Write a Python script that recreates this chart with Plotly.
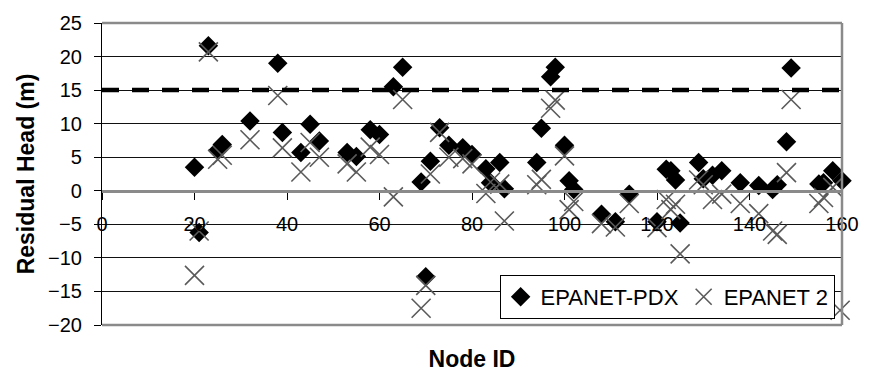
import plotly.graph_objects as go

node_id = [20, 21, 23, 25, 26, 32, 38, 39, 43, 45, 47, 53, 55, 58, 60, 63, 65, 69, 70, 71,
           73, 75, 78, 80, 83, 84, 86, 87, 94, 95, 97, 98, 100, 101, 102, 108, 111, 114,
           120, 122, 123, 124, 125, 129, 130, 132, 134, 138, 142, 145, 146, 148, 149,
           155, 156, 158, 160]
epanet_pdx = [3.5, -6.2, 21.6, 6.0, 6.9, 10.4, 19.0, 8.7, 5.7, 9.9, 7.4, 5.7, 5.1, 9.1, 8.4, 15.5, 18.4, 1.3, -12.8, 4.4,
              9.4, 6.8, 6.4, 5.4, 3.3, 1.2, 4.2, 0.3, 4.2, 9.3, 17.0, 18.4, 6.8, 1.5, 0.2, -3.5, -4.6, -0.5,
              -4.6, 3.2, 3.0, 1.6, -4.8, 4.2, 1.8, 2.3, 3.0, 1.2, 0.8, 0.2, 0.9, 7.3, 18.3,
              1.0, 1.2, 3.0, 1.5]
epanet_2 = [-12.6, -6.0, 20.7, 4.7, 5.3, 7.6, 14.2, 6.4, 2.8, 7.2, 5.0, 4.0, 2.8, 6.5, 5.4, -0.9, 13.6, -17.5, -14.1, 2.5,
            8.7, 5.0, 4.8, 4.0, -0.4, 1.3, 1.0, -4.5, 0.9, 1.7, 12.3, 13.5, 5.2, -2.8, -1.6, -4.9, -5.4, -1.9,
            -5.5, -1.3, -2.8, -2.0, -9.4, 1.6, 0.9, -1.3, -0.5, -1.9, -3.4, -6.0, -6.5, 2.7, 13.6,
            -1.9, -1.0, 0.5, -17.8]
threshold = 15
x_range = [0, 160]
y_range = [-20, 25]

FONT = "Liberation Sans, Arial, sans-serif"

fig = go.Figure()
fig.add_trace(go.Scatter(
    x=node_id, y=epanet_pdx, mode="markers", name="EPANET-PDX",
    marker=dict(symbol="diamond", size=15, color="black", line=dict(width=0)),
    cliponaxis=False,
))
fig.add_trace(go.Scatter(
    x=node_id[:-1] + [159.6], y=epanet_2, mode="markers", name="EPANET 2",
    marker=dict(symbol="x-thin", size=19, color="#5a5a5a", line=dict(width=1.6, color="#5a5a5a")),
    cliponaxis=False,
))

# threshold dashed line
fig.add_shape(type="line", xref="x", yref="y", x0=x_range[0], x1=x_range[1], y0=threshold, y1=threshold,
              line=dict(color="black", width=4.5, dash="17px,13px"), layer="above")
# gray frame: top, right, bottom
for (x0, y0, x1, y1) in [(0, 1, 1, 1), (1, 0, 1, 1), (0, 0, 1, 0)]:
    fig.add_shape(type="line", xref="paper", yref="paper", x0=x0, y0=y0, x1=x1, y1=y1,
                  line=dict(color="#8a8a8a", width=2.5), layer="above")

fig.update_layout(
    width=871, height=381,
    margin=dict(l=102, r=26, t=19, b=56),
    paper_bgcolor="white", plot_bgcolor="white",
    font=dict(family=FONT, color="black", size=20),
    showlegend=True,
    legend=dict(orientation="h", x=0.99, xanchor="right", y=0.02, yanchor="bottom",
                bgcolor="white", bordercolor="black", borderwidth=1,
                font=dict(size=22, family=FONT), itemwidth=30),
    xaxis=dict(range=x_range, dtick=20, tick0=0, showgrid=False, zeroline=False,
               anchor="free", position=20/45,
               showline=True, linecolor="#8a8a8a", linewidth=2.5,
               ticks="outside", ticklen=7, tickcolor="black", tickwidth=1,
               ticklabelstandoff=7,
               tickfont=dict(size=20),
               title=dict(text="<b>Node ID</b>", font=dict(size=23), standoff=117),
               ),
    yaxis=dict(range=y_range, dtick=5, tick0=0, showgrid=True, gridcolor="#111111", gridwidth=1,
               zeroline=False, showline=True, linecolor="black", linewidth=1.2,
               ticks="outside", ticklen=7, tickcolor="black", tickwidth=1,
               ticklabelstandoff=8,
               tickfont=dict(size=20),
               title=dict(text="<b>Residual Head (m)</b>", font=dict(size=23), standoff=6)),
)
fig.write_html("out.html")
